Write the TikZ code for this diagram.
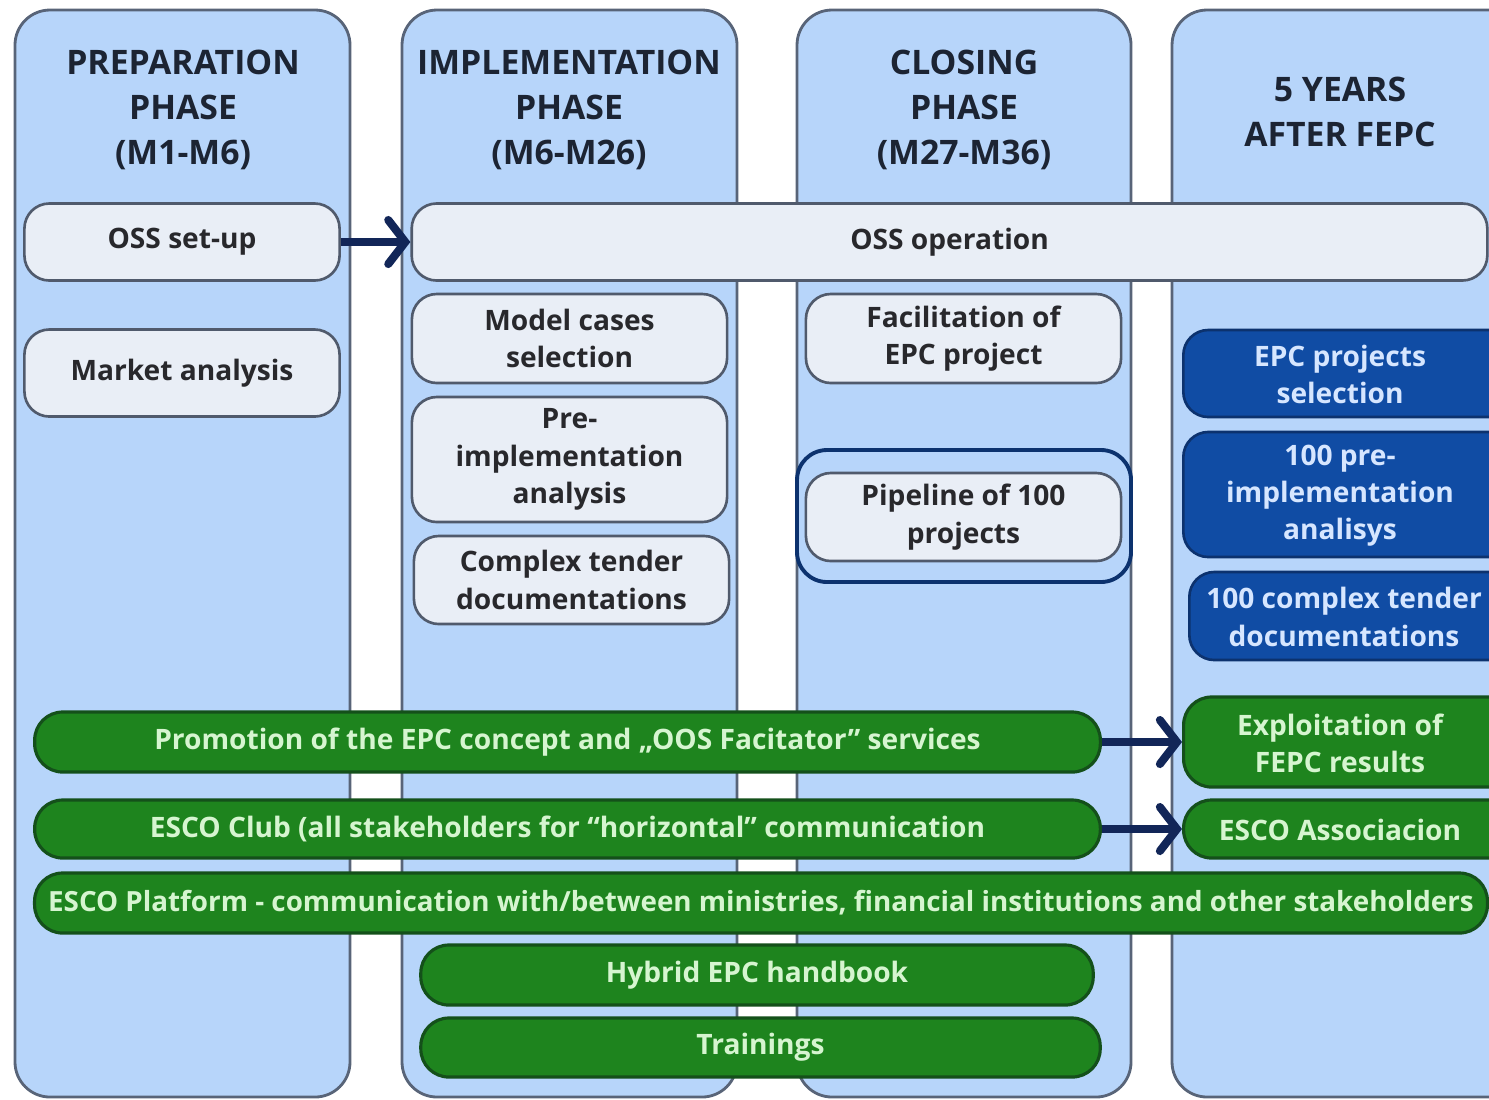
\documentclass[tikz,border=0pt]{standalone}
\usepackage{fontspec}
\setmainfont{Open Sans}
\usetikzlibrary{arrows.meta}
\definecolor{colfill}{RGB}{183,213,250}
\definecolor{colline}{RGB}{88,100,120}
\definecolor{nodefill}{RGB}{233,238,246}
\definecolor{nodeline}{RGB}{80,90,108}
\definecolor{hdtext}{RGB}{28,36,51}
\definecolor{ntext}{RGB}{40,40,44}
\definecolor{dbfill}{RGB}{16,76,164}
\definecolor{dbline}{RGB}{12,50,110}
\definecolor{dbtext}{RGB}{214,230,255}
\definecolor{grfill}{RGB}{30,132,30}
\definecolor{grline}{RGB}{20,80,26}
\definecolor{grtext}{RGB}{214,245,208}
\definecolor{navy}{RGB}{18,38,88}
\tikzset{
  phasecol/.style={draw=colline,fill=colfill,line width=0.8pt,rounded corners=0.35cm},
  hdr/.style={text=hdtext,font=\fontsize{9.6}{12.8}\selectfont\bfseries,align=center},
  graybox/.style={draw=nodeline,fill=nodefill,line width=0.75pt,rounded corners=0.25cm,
    text=ntext,font=\fontsize{8}{10.6}\selectfont\bfseries,align=center,inner sep=0pt},
  bluebox/.style={draw=dbline,fill=dbfill,line width=0.75pt,rounded corners=0.25cm,
    text=dbtext,font=\fontsize{8}{10.6}\selectfont\bfseries,align=center,inner sep=0pt},
  greenbox/.style={draw=grline,fill=grfill,line width=0.9pt,rounded corners=0.28cm,
    text=grtext,font=\fontsize{8}{10.6}\selectfont\bfseries,align=center,inner sep=0pt},
  bluetext/.style={text=dbtext,font=\fontsize{8}{10.6}\selectfont\bfseries,align=center},
  greentext/.style={text=grtext,font=\fontsize{8}{10.6}\selectfont\bfseries,align=center},
  flowarrow/.style={draw=navy,line width=2.3pt,-{Straight Barb[length=1.7mm,width=4.4mm,line cap=round]}},
}
\begin{document}
\begin{tikzpicture}[x=0.01cm,y=-0.01cm]
\useasboundingbox (0,0) rectangle (1489,1099);
\fill[white] (0,0) rectangle (1489,1099);
\begin{scope}
\clip (0,0) rectangle (1489,1099);
% phase columns
\draw[phasecol] (15,10) rectangle (350,1097);
\draw[phasecol] (402,10) rectangle (737,1097);
\draw[phasecol] (797,10) rectangle (1131,1097);
\draw[phasecol] (1172,10) rectangle (1540,1097);
% headers
\node[hdr] (h1) at (183,110) {PREPARATION\\PHASE\\(M1-M6)};
\node[hdr] (h2) at (569,110) {IMPLEMENTATION\\PHASE\\(M6-M26)};
\node[hdr] (h3) at (964,110) {CLOSING\\PHASE\\(M27-M36)};
\node[hdr] (h4) at (1340,112) {5 YEARS\\AFTER FEPC};
% pipeline outer frame
\draw[draw=dbline,fill=colfill,line width=1.1pt,rounded corners=0.3cm] (797,450) rectangle (1131,582);
% gray boxes
\node[graybox,minimum width=3.15cm,minimum height=0.77cm] (oss) at (182,242) {OSS set-up};
\node[graybox,minimum width=3.15cm,minimum height=0.87cm] (market) at (182,373) {Market analysis};
\node[graybox,minimum width=10.75cm,minimum height=0.77cm] (ossop) at (949.5,242) {OSS operation};
\node[graybox,minimum width=3.15cm,minimum height=0.89cm] (model) at (569.5,338.5) {Model cases\\selection};
\node[graybox,minimum width=3.15cm,minimum height=1.25cm] (preimp) at (569.5,459.5) {Pre-\\implementation\\analysis};
\node[graybox,minimum width=3.15cm,minimum height=0.88cm] (tender) at (571.5,580) {Complex tender\\documentations};
\node[graybox,minimum width=3.15cm,minimum height=0.89cm] (facil) at (963.5,338.5) {Facilitation of\\EPC project};
\node[graybox,minimum width=3.15cm,minimum height=0.88cm] (pipe) at (963.5,517) {Pipeline of 100\\projects};
% blue boxes (right edge cut off)
\node[bluebox,minimum width=3.5cm,minimum height=0.87cm,anchor=west] (eps) at (1182,373.5) {};
\node[bluetext] (epsT) at (1340,374.5) {EPC projects\\selection};
\node[bluebox,minimum width=3.5cm,minimum height=1.25cm,anchor=west] (p100) at (1182,494.5) {};
\node[bluetext] (p100T) at (1340,495.5) {100 pre-\\implementation\\analisys};
\node[bluebox,minimum width=3.5cm,minimum height=0.88cm,anchor=west] (t100) at (1188,616) {};
\node[bluetext] (t100T) at (1344,617) {100 complex tender\\documentations};
% green boxes
\node[greenbox,minimum width=3.5cm,minimum height=0.90cm,anchor=west] (expl) at (1182,742) {};
\node[greentext] (explT) at (1340,743) {Exploitation of\\FEPC results};
\node[greenbox,minimum width=3.5cm,minimum height=0.58cm,anchor=west] (assoc) at (1182,829) {};
\node[greentext] (assocT) at (1340,830) {ESCO Associacion};
\node[greenbox,minimum width=10.65cm,minimum height=0.60cm] (promo) at (567.5,742) {Promotion of the EPC concept and „OOS Facitator” services};
\node[greenbox,minimum width=10.65cm,minimum height=0.58cm] (club) at (567.5,829) {ESCO Club (all stakeholders for “horizontal” communication};
\node[greenbox,minimum width=14.52cm,minimum height=0.60cm,font=\fontsize{7.9}{10.6}\selectfont\bfseries] (platform) at (761,903) {ESCO Platform - communication with/between ministries, financial institutions and other stakeholders};
\node[greenbox,minimum width=6.72cm,minimum height=0.60cm] (hybrid) at (757,975) {Hybrid EPC handbook};
\node[greenbox,minimum width=6.79cm,minimum height=0.59cm] (train) at (760.5,1047.5) {Trainings};
% arrows
\draw[flowarrow] (oss.east) -- (ossop.west);
\draw[flowarrow] (promo.east) -- (expl.west);
\draw[flowarrow] (club.east) -- (assoc.west);
\end{scope}
\end{tikzpicture}
\end{document}
